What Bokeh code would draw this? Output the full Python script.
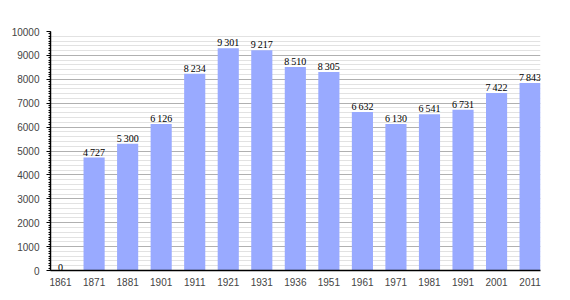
from bokeh.plotting import figure
from bokeh.models import ColumnDataSource, FixedTicker, Range1d, LabelSet
from bokeh.embed import file_html
from bokeh.resources import INLINE

years = ["1861", "1871", "1881", "1901", "1911", "1921", "1931", "1936",
         "1951", "1961", "1971", "1981", "1991", "2001", "2011"]
population = [0, 4727, 5300, 6126, 8234, 9301, 9217, 8510,
              8305, 6632, 6130, 6541, 6731, 7422, 7843]
y_major_ticks = [0, 1000, 2000, 3000, 4000, 5000, 6000, 7000, 8000, 9000, 10000]

idx = list(range(len(years)))
labels = ["{:,}".format(v).replace(",", "\u2009") for v in population]
src = ColumnDataSource(dict(x=idx, top=population, label=labels))

p = figure(width=570, height=300, output_backend="svg", toolbar_location=None,
           x_range=Range1d(-0.3, len(years) - 1 + 0.31), y_range=Range1d(0, 10000),
           min_border_left=50, min_border_right=30, min_border_top=31, min_border_bottom=30)
p.outline_line_color = None
p.background_fill_color = "white"

p.vbar(x="x", top="top", width=0.63, source=src, fill_color="#99aaff", line_color=None)
p.add_layout(LabelSet(x="x", y="top", text="label", source=src, text_align="center",
                      text_baseline="bottom", text_font="Liberation Sans",
                      text_font_size="10px", text_color="black", y_offset=0))

# axes
p.xaxis.ticker = FixedTicker(ticks=idx)
p.xaxis.major_label_overrides = {i: y for i, y in enumerate(years)}
p.xaxis.major_tick_line_color = None
p.xaxis.minor_tick_line_color = None
p.xaxis.axis_line_color = "black"
p.xaxis.axis_line_width = 1.5
p.xaxis.major_label_text_font = "Liberation Sans"
p.xaxis.major_label_text_font_size = "10px"
p.xaxis.major_label_standoff = 1

minor_ticks_all = [v for v in range(0, 10001, 100)]
minor = [v for v in range(0, 10001, 200) if v % 1000 != 0]
p.yaxis.ticker = FixedTicker(ticks=y_major_ticks, minor_ticks=minor_ticks_all)
p.yaxis.axis_line_color = "black"
p.yaxis.axis_line_width = 1.5
p.yaxis.major_tick_out = 4
p.yaxis.major_tick_in = 0
p.yaxis.minor_tick_out = 2
p.yaxis.minor_tick_in = 0
p.yaxis.major_tick_line_color = "black"
p.yaxis.minor_tick_line_color = "black"
p.yaxis.major_label_text_font = "Liberation Sans"
p.yaxis.major_label_text_font_size = "10px"
p.yaxis.major_label_standoff = 7

p.xgrid.grid_line_color = None
p.ygrid.ticker = FixedTicker(ticks=y_major_ticks, minor_ticks=minor)
p.ygrid.grid_line_color = "#b0b0b0"
p.ygrid.minor_grid_line_color = "#e2e2e2"
p.ygrid.level = "underlay"

open("out.html", "w").write(file_html(p, INLINE))
